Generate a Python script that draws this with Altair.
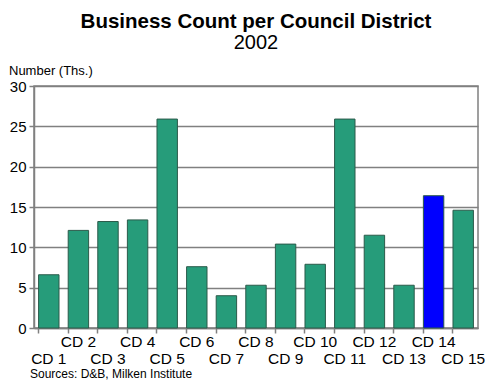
import altair as alt
import pandas as pd

districts = [f"CD {i}" for i in range(1, 16)]
counts = [6.6, 12.1, 13.2, 13.4, 25.9, 7.6, 4.0, 5.3, 10.4, 7.9, 25.9, 11.5, 5.3, 16.4, 14.6]
highlight = ["other"] * 13 + ["CD 14", "other"]

df = pd.DataFrame({"district": districts, "count": counts, "group": highlight})

W, H = 444, 242
PL = 26

bars = alt.Chart(df).mark_bar(
    stroke="#2b5a4a", strokeWidth=1
).encode(
    x=alt.X(
        "district:N", sort=districts, title=None,
        scale=alt.Scale(paddingInner=0.31, paddingOuter=0.155),
        axis=alt.Axis(
            bandPosition=0, labelAngle=0,
            labelExpr="parseInt(substring(datum.value, 3)) % 2 == 1 ? ['', datum.value] : [datum.value]",
            labelFont="Liberation Sans", labelFontSize=15.5, labelColor="#000000",
            labelLineHeight=16.5, labelPadding=1.5,
            tickColor="#808080", tickSize=5, tickWidth=1.5,
            domainColor="#808080", domainWidth=1.5, grid=False,
        ),
    ),
    y=alt.Y(
        "count:Q", title=None,
        scale=alt.Scale(domain=[0, 30], nice=False),
        axis=alt.Axis(
            values=[0, 5, 10, 15, 20, 25, 30], labelFont="Liberation Sans",
            labelFontSize=15, labelColor="#000000", labelPadding=3,
            tickColor="#808080", tickSize=5, tickWidth=1.5,
            domainColor="#808080", domainWidth=1.5,
            gridColor="#808080", gridWidth=1.5,
        ),
    ),
    color=alt.Color(
        "group:N",
        scale=alt.Scale(domain=["other", "CD 14"], range=["#269c7a", "#0000ff"]),
        legend=None,
    ),
)

ylabel = alt.Chart(pd.DataFrame({"t": ["Number (Ths.)"]})).mark_text(
    font="Liberation Sans", fontSize=13, align="left", baseline="middle", color="#000000"
).encode(text="t:N", x=alt.value(-PL + 1), y=alt.value(-15))

source = alt.Chart(pd.DataFrame({"t": ["Sources: D&B, Milken Institute"]})).mark_text(
    font="Liberation Sans", fontSize=12, align="left", baseline="middle", color="#000000"
).encode(text="t:N", x=alt.value(-4), y=alt.value(H + 45.5))

chart = alt.layer(bars, ylabel, source).properties(
    width=W, height=H,
    autosize=alt.AutoSizeParams(type="none"),
    padding={"left": PL, "top": 78, "right": 9, "bottom": 52},
    title=alt.Title(
        "Business Count per Council District", subtitle="2002",
        anchor="middle", font="Liberation Sans", fontSize=20.5, fontWeight="bold",
        color="#000000", subtitleFont="Liberation Sans", subtitleFontSize=20,
        subtitleColor="#000000", offset=12.5, subtitlePadding=0.5,
    ),
).configure_view(stroke="#808080", strokeWidth=1.5)

chart.save("out.html", embed_options={"renderer": "svg", "actions": False})
